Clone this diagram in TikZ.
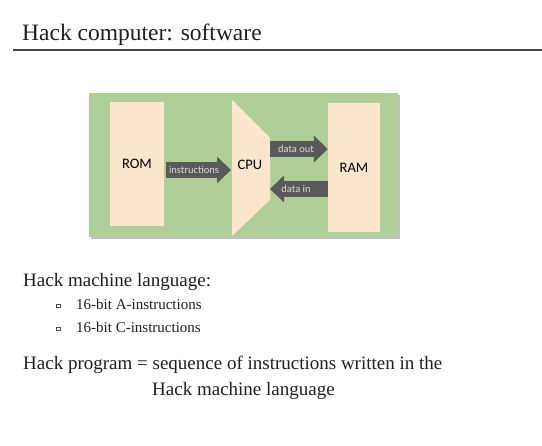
\documentclass[tikz,border=0pt]{standalone}
\usepackage{fontspec}
\setmainfont{Liberation Serif}
\newfontfamily\calibri{Carlito}
\usetikzlibrary{arrows.meta,calc}
\definecolor{hgreen}{HTML}{B0CF98}
\definecolor{hpeach}{HTML}{FCE5CD}
\definecolor{hdark}{HTML}{595959}
\newcommand{\fs}[1]{\fontsize{#1}{#1}\selectfont}

\begin{document}
\begin{tikzpicture}[
  x=1pt, y=-1pt,
  unit/.style={fill=hpeach, inner sep=0pt, font=\calibri\fs{14.5}},
  bus/.style={hdark, line width=16pt, -{Triangle[length=14pt, width=26pt]}},
  buslabel/.style={text=white!85!black, font=\calibri\fs{10.5}, inner sep=0pt},
  txt/.style={anchor=base west, inner sep=0pt, text=black!88},
  bul/.style={draw=black!70, fill=white, line width=0.5pt, minimum size=3.5pt, inner sep=0pt},
]
\useasboundingbox (0,0) rectangle (542,446);

% ---------------- the title ----------------
\node[txt, font=\fs{23.5}] (title) at (22,41) {Hack computer: software};
\coordinate (ruleL) at (13,50);
\coordinate (ruleR) at (542,50);
\draw[line width=1.6pt, black!72] (ruleL) -- (ruleR);

% ---------------- the diagram ----------------
\fill[black!25] (91,95) rectangle (400,239);
\fill[hgreen] (89,93) rectangle (398,237);
\node[unit, minimum width=54pt, minimum height=124pt] (rom) at (137,164) {ROM};
\node[unit, minimum width=52pt, minimum height=129pt] (ram) at (354,167.5) {RAM};
\fill[hpeach] (232,100) -- (270,138) -- (270,200) -- (232,236) -- cycle;
\node[unit, fill=none] (cpu) at (250,165) {CPU};
\coordinate (cpuIn)  at (231,170);
\coordinate (cpuOut) at (270,149);
\coordinate (cpuRet) at (270,189);

\draw[bus] ($(rom.east |- cpuIn)+(2,0)$) -- (cpuIn)
  node[buslabel, pos=0.43] {instructions};
\draw[bus] (cpuOut) -- (ram.west |- cpuOut)
  node[buslabel, pos=0.45] {data out};
\draw[bus] (ram.west |- cpuRet) -- (cpuRet)
  node[buslabel, pos=0.55] {data in};

% ---------------- the text ----------------
\node[txt, font=\fs{19}] (lang) at (23,287) {Hack machine language:};
\node[bul] (b1) at (58,306) {};
\node[txt, font=\fs{15}] (ainst) at (76,310) {16-bit A-instructions};
\node[bul] (b2) at (58,329) {};
\node[txt, font=\fs{15}] (cinst) at (76,333) {16-bit C-instructions};
\node[txt, font=\fs{19}] (prog) at (23,370) {Hack program = sequence of instructions written in the};
\node[txt, font=\fs{19}] (prog2) at (152,396) {Hack machine language};

\end{tikzpicture}
\end{document}
